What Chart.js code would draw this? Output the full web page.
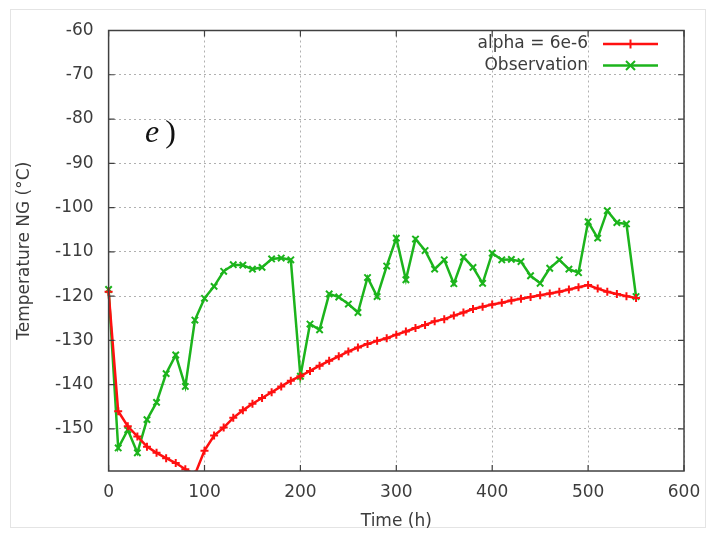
<!DOCTYPE html>
<html>
<head>
<meta charset="utf-8">
<script src="https://cdn.jsdelivr.net/npm/chart.js@4.4.1/dist/chart.umd.min.js"></script>
<style>
  html, body { margin: 0; padding: 0; background: #ffffff; }
  #wrap { width: 716px; height: 535px; position: relative; }
</style>
</head>
<body>
<div id="wrap"><canvas id="c" width="716" height="535"></canvas></div>
<script>
// ---- data ----
const timeHours = [0,10,20,30,40,50,60,70,80,90,100,110,120,130,140,150,160,170,180,190,200,210,220,230,240,250,260,270,280,290,300,310,320,330,340,350,360,370,380,390,400,410,420,430,440,450,460,470,480,490,500,510,520,530,540,550];
const alphaModel = [-119.0,-146.0,-149.4,-151.7,-154.0,-155.4,-156.6,-157.7,-159.1,-160.3,-154.9,-151.5,-149.7,-147.5,-145.8,-144.3,-143.0,-141.7,-140.4,-139.1,-138.1,-136.9,-135.7,-134.6,-133.6,-132.5,-131.6,-130.8,-130.1,-129.5,-128.7,-128.0,-127.2,-126.5,-125.7,-125.2,-124.4,-123.7,-122.9,-122.4,-121.9,-121.5,-121.0,-120.6,-120.2,-119.8,-119.4,-119.0,-118.5,-118.0,-117.5,-118.3,-119.0,-119.5,-120.0,-120.4];
const observation = [-118.5,-154.3,-150.2,-155.4,-147.9,-144.0,-137.5,-133.3,-140.4,-125.4,-120.5,-117.8,-114.4,-112.9,-113.0,-113.9,-113.5,-111.6,-111.4,-111.8,-138.1,-126.3,-127.6,-119.5,-120.2,-121.8,-123.7,-115.8,-120.1,-113.2,-106.9,-116.3,-107.1,-109.7,-113.9,-111.8,-117.2,-111.2,-113.5,-117.1,-110.3,-111.8,-111.7,-112.2,-115.4,-117.1,-113.7,-111.8,-113.9,-114.7,-103.2,-106.9,-100.7,-103.4,-103.7,-120.1];
const xTicks = [0,100,200,300,400,500,600];
const yTicks = [-150,-140,-130,-120,-110,-100,-90,-80,-70,-60];
const seriesNames = ['alpha = 6e-6', 'Observation'];
const axisTitles = { x: 'Time (h)', y: 'Temperature NG (°C)' };
const panelLabel = 'e';

const TEXT = '#3c3c3c';
const RED = '#ff1010';
const GREEN = '#1cb41c';
const FONT = "'DejaVu Sans', sans-serif";

const toXY = (vals) => timeHours.map((t, i) => ({ x: t, y: vals[i] }));

const decorPlugin = {
  id: 'decor',
  beforeDraw(chart) {
    const ctx = chart.ctx;
    ctx.save();
    ctx.fillStyle = '#ffffff';
    ctx.fillRect(0, 0, chart.width, chart.height);
    ctx.strokeStyle = '#e4e4e4';
    ctx.lineWidth = 1;
    ctx.strokeRect(10.5, 9.5, 695, 518);
    ctx.restore();
  },
  afterDatasetsDraw(chart) {
    const { ctx, chartArea: a, scales } = chart;
    ctx.save();
    // frame
    ctx.strokeStyle = '#404040';
    ctx.lineWidth = 1.5;
    ctx.strokeRect(a.left, a.top, a.right - a.left, a.bottom - a.top);
    // inward ticks (mirrored)
    ctx.lineWidth = 1.2;
    ctx.beginPath();
    xTicks.forEach(v => {
      const px = scales.x.getPixelForValue(v);
      ctx.moveTo(px, a.bottom); ctx.lineTo(px, a.bottom - 6);
      ctx.moveTo(px, a.top); ctx.lineTo(px, a.top + 6);
    });
    yTicks.forEach(v => {
      const py = scales.y.getPixelForValue(v);
      ctx.moveTo(a.left, py); ctx.lineTo(a.left + 6, py);
      ctx.moveTo(a.right, py); ctx.lineTo(a.right - 6, py);
    });
    ctx.stroke();

    // legend (gnuplot style, top right)
    const rows = [
      { label: seriesNames[0], color: RED, style: 'plus', y: 44 },
      { label: seriesNames[1], color: GREEN, style: 'x', y: 65.5 }
    ];
    ctx.font = '17px ' + FONT;
    ctx.textAlign = 'right';
    ctx.textBaseline = 'middle';
    rows.forEach(r => {
      ctx.fillStyle = TEXT;
      ctx.fillText(r.label, 588, r.y);
      ctx.strokeStyle = r.color;
      ctx.lineWidth = 2.5;
      ctx.beginPath();
      ctx.moveTo(603, r.y); ctx.lineTo(658, r.y);
      ctx.stroke();
      ctx.lineWidth = 2;
      ctx.beginPath();
      const cx = 630.5, s = 4.5;
      if (r.style === 'plus') {
        ctx.moveTo(cx, r.y - s); ctx.lineTo(cx, r.y + s);
        ctx.moveTo(cx - s, r.y); ctx.lineTo(cx + s, r.y);
      } else {
        ctx.moveTo(cx - s, r.y - s); ctx.lineTo(cx + s, r.y + s);
        ctx.moveTo(cx - s, r.y + s); ctx.lineTo(cx + s, r.y - s);
      }
      ctx.stroke();
    });

    // panel label "e)"
    ctx.fillStyle = '#111111';
    ctx.textAlign = 'left';
    ctx.textBaseline = 'alphabetic';
    ctx.font = "italic 32px 'Liberation Serif', serif";
    ctx.fillText(panelLabel, 145, 142);
    const w = ctx.measureText(panelLabel).width;
    ctx.font = "32px 'Liberation Serif', serif";
    ctx.fillText(')', 145 + w + 6, 142);
    ctx.restore();
  }
};

new Chart(document.getElementById('c'), {
  type: 'line',
  data: {
    datasets: [
      {
        label: seriesNames[0],
        data: toXY(alphaModel),
        borderColor: RED,
        backgroundColor: RED,
        borderWidth: 2.5,
        pointStyle: 'cross',
        pointRadius: 4,
        pointBorderWidth: 2,
        pointBorderColor: RED,
        tension: 0,
        clip: { left: 10, right: 10, top: 0, bottom: 0 }
      },
      {
        label: seriesNames[1],
        data: toXY(observation),
        borderColor: GREEN,
        backgroundColor: GREEN,
        borderWidth: 2.5,
        pointStyle: 'crossRot',
        pointRadius: 4.5,
        pointBorderWidth: 2,
        pointBorderColor: GREEN,
        tension: 0,
        clip: { left: 10, right: 10, top: 0, bottom: 0 }
      }
    ]
  },
  options: {
    responsive: false,
    animation: false,
    devicePixelRatio: 1,
    layout: { padding: { left: 0, right: 32, top: 30.5, bottom: 0 } },
    plugins: { legend: { display: false }, tooltip: { enabled: false } },
    scales: {
      x: {
        type: 'linear',
        min: 0, max: 600,
        afterFit: (s) => { s.height = 64; },
        afterBuildTicks: (s) => { s.ticks = xTicks.map(v => ({ value: v })); },
        ticks: { color: TEXT, font: { family: FONT, size: 17 }, padding: 11, maxRotation: 0 },
        grid: { color: '#b0b0b0', lineWidth: 1, drawTicks: false },
        border: { display: false, dash: [2, 3] },
        title: { display: true, text: axisTitles.x, color: TEXT, font: { family: FONT, size: 17 }, padding: { top: 0, bottom: 3 } }
      },
      y: {
        type: 'linear',
        min: -159.5, max: -60,
        afterFit: (s) => { s.width = 108.6; },
        afterBuildTicks: (s) => { s.ticks = yTicks.map(v => ({ value: v })); },
        ticks: { color: TEXT, font: { family: FONT, size: 17 }, padding: 15 },
        grid: { color: '#b0b0b0', lineWidth: 1, drawTicks: false },
        border: { display: false, dash: [2, 3] },
        title: { display: true, text: axisTitles.y, color: TEXT, font: { family: FONT, size: 17 }, padding: { top: 14, bottom: 0 } }
      }
    }
  },
  plugins: [decorPlugin]
});
</script>
</body>
</html>
